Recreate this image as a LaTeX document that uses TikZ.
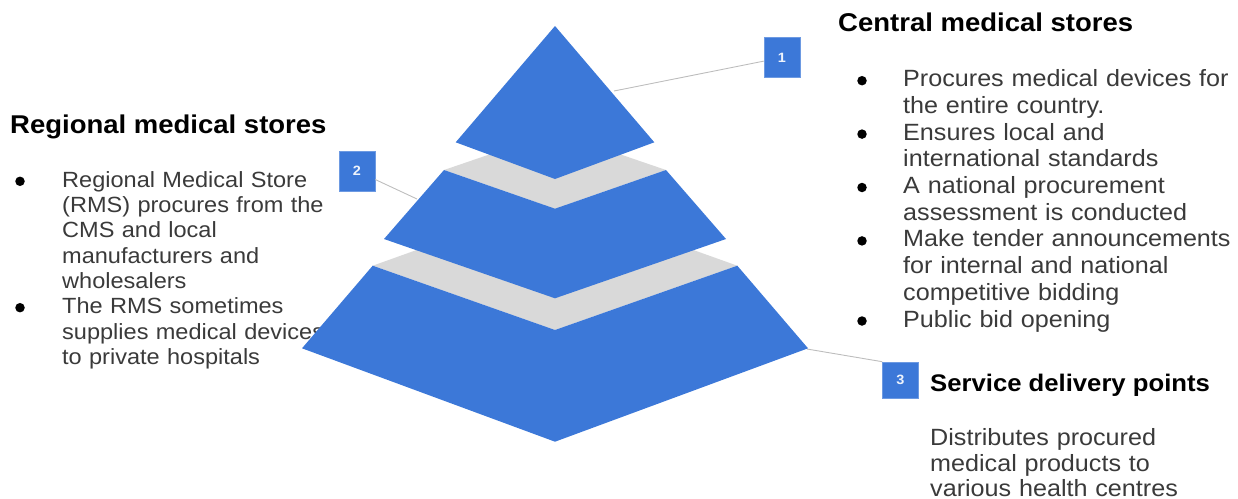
\documentclass[tikz,border=0pt]{standalone}
\usepackage{fontspec}
\setmainfont{Liberation Sans}[FakeStretch=1.07]
\usetikzlibrary{positioning, calc}
\definecolor{tierblue}{HTML}{3C78D8}
\definecolor{tiergray}{HTML}{D9D9D9}
\definecolor{leadgray}{HTML}{BDBDBD}
\definecolor{bodygray}{HTML}{3A3A3A}

\begin{document}
\begin{tikzpicture}[x=1pt, y=-1pt,
            tier/.style={fill=tierblue},
            face/.style={fill=tiergray},
            lead/.style={draw=leadgray, line width=0.9pt},
            numbox/.style={fill=tierblue, draw=tierblue!75!white, line width=0.6pt, minimum width=36pt, minimum height=40pt, inner sep=0pt, text=white!92!tierblue, font=\fontsize{13.5}{13.5}\selectfont\bfseries},
            head/.style={anchor=base west, inner sep=0pt, font=\fontsize{25.7}{30}\selectfont\bfseries},
            item/.style={anchor=base west, inner sep=0pt, text width=340pt, align=left, text=bodygray, font=\fontsize{23.5}{26.7}\selectfont},
            dot/.style={circle, fill=black, inner sep=0pt, minimum size=9.5pt}]
            \useasboundingbox (0,0) rectangle (1238,498);

            % left column
            \node[head] (rhead) at (10,133) {Regional medical stores};
            \node[item, font=\fontsize{22}{25.3}\selectfont] (r1) at (62,187.3) {Regional Medical Store\\(RMS) procures from the\\CMS and local\\manufacturers and\\wholesalers};
            \node[item, font=\fontsize{22}{25.3}\selectfont] (r2) at (62,313.7) {The RMS sometimes\\supplies medical devices\\to private hospitals};
            \foreach \y [count=\i] in {181.3,307.7} { \node[dot] (lb\i) at (20,\y) {}; }

            % right column
            \node[head] (chead) at (838,31) {Central medical stores};
            \node[item] (c1) at (903,86.7) {Procures medical devices for\\the entire country.};
            \node[item] (c2) at (903,140.1) {Ensures local and\\international standards};
            \node[item] (c3) at (903,193.5) {A national procurement\\assessment is conducted};
            \node[item] (c4) at (903,246.9) {Make tender announcements\\for internal and national\\competitive bidding};
            \node[item] (c5) at (903,327) {Public bid opening};
            \foreach \y [count=\i] in {80.7,134.1,187.5,240.9,321} { \node[dot] (rb\i) at (862,\y) {}; }

            \node[head, font=\fontsize{24}{28}\selectfont\bfseries] (shead) at (930,391.7) {Service delivery points};
            \node[item, font=\fontsize{23.5}{25.5}\selectfont] (s1) at (930,445.5) {Distributes procured\\medical products to\\various health centres};

            % number tags and leader lines
            \node[numbox] (n1) at (782,57.5) {1};
            \node[numbox] (n2) at (357,171) {2};
            \node[numbox, minimum height=36pt] (n3) at (900.5,380) {3};
            \coordinate (p1) at (614,91);
            \coordinate (p2) at (417,199);
            \coordinate (p3) at (807,349);
            \draw[lead] (p1) -- (n1);
            \draw[lead] (p2) -- (n2);
            \draw[lead] (p3) -- (n3.north west);

            % pyramid: grey tops first, blue tiers over them
            \fill[face] (444,170) -- (555,132) -- (666,170) -- (555,208.7) -- cycle;
            \fill[face] (372.7,265.7) -- (555,200.5) -- (737.3,265.7) -- (555,330) -- cycle;
            \fill[tier] (555,26) -- (654.3,142.3) -- (555,179) -- (455.7,142.3) -- cycle;
            \fill[tier] (444,170) -- (555,208.7) -- (666,170) -- (726,239) -- (555,298.3) -- (384,239) -- cycle;
            \fill[tier] (372.7,265.7) -- (555,330) -- (737.3,265.7) -- (808,348.3) -- (555,441.7) -- (302,348.3) -- cycle;
        \end{tikzpicture}
\end{document}
